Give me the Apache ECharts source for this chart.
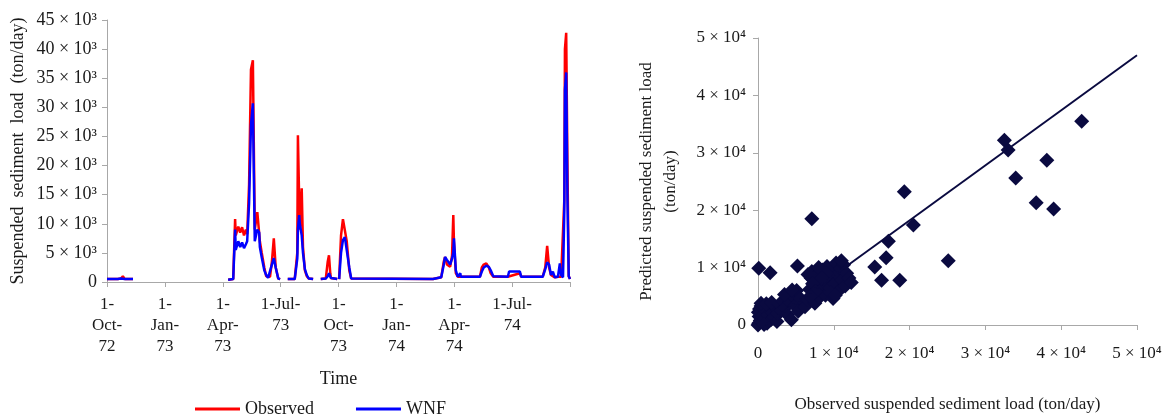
<!DOCTYPE html>
<html>
<head>
<meta charset="utf-8">
<script src="https://cdn.jsdelivr.net/npm/echarts@6/dist/echarts.min.js"></script>
<style>
html,body{margin:0;padding:0;background:#fff;}
#main{width:1172px;height:414px;}
</style>
</head>
<body>
<div id="main"></div>
<script>
// ---- Data ----
// Time axis: days since 1-Oct-72
const timeTickLabels = ['1-\nOct-\n72','1-\nJan-\n73','1-\nApr-\n73','1-Jul-\n73','1-\nOct-\n73','1-\nJan-\n74','1-\nApr-\n74','1-Jul-\n74',''];
const leftYTickLabels = ['0','5 × 10³','10 × 10³','15 × 10³','20 × 10³','25 × 10³','30 × 10³','35 × 10³','40 × 10³','45 × 10³'];
const scatterTickLabels = ['0','1 × 10⁴','2 × 10⁴','3 × 10⁴','4 × 10⁴','5 × 10⁴'];

// [day, ton/day]; null = gap in record
const observed = [
 [0,500],[17,500],[22,600],[25,1000],[28,500],[41,500],null,
 [191,400],[199,500],[202,10800],[203,8000],[207,9500],[210,8500],[213,9400],[216,8000],[219,9000],[221,8200],
 [224,16700],[227,36500],[230,38100],[233,9000],[237,12000],[240,12200],[241,7000],[244,5000],[248,2500],
 [251,1000],[254,700],[257,900],[260,3500],[263,7500],[266,2500],[270,600],[273,500],null,
 [285,500],[296,500],[300,5000],[301,25200],[303,14000],[304,9000],[307,16100],[309,6000],[312,2000],[315,1000],[318,600],[325,500],null,
 [337,500],[345,600],[348,3500],[350,4600],[352,1500],[353,700],[363,500],null,
 [366,500],[369,8000],[372,10800],[375,10500],[378,7000],[382,2000],[385,600],[388,500],[514,500],[527,800],
 [531,3500],[533,4300],[536,3000],[541,2600],[544,4500],[546,11500],[547,7000],[550,1500],[553,900],[557,900],
 [558,900],[588,900],[591,2500],[594,3000],[598,3200],[602,2500],[605,1500],[609,900],[632,900],[634,1200],
 [651,1500],[653,900],[687,900],[691,2500],[694,6200],[697,2500],[700,1200],[703,1500],[706,800],[711,900],
 [714,1000],[716,900],[719,800],[721,14000],[722,40000],[724,42800],[726,20000],[728,1000],[730,500]
];
const wnf = [
 [0,500],[17,500],[22,600],[25,800],[28,500],[41,500],null,
 [191,400],[199,500],[202,9000],[203,5500],[207,7000],[210,6000],[213,6800],[216,5800],[219,6500],[221,7000],
 [224,13500],[227,27000],[230,30700],[233,7000],[237,9000],[240,8500],[241,6000],[244,4200],[248,2000],
 [251,1200],[254,700],[257,800],[260,3000],[263,4100],[266,2500],[270,600],[273,500],null,
 [285,500],[296,500],[300,4000],[301,9000],[303,11500],[304,10000],[307,8000],[309,5000],[312,2200],[315,1200],[318,600],[325,500],null,
 [337,500],[345,600],[348,1000],[350,1500],[352,1500],[353,700],[363,500],null,
 [366,500],[369,5000],[372,7200],[375,7700],[378,7500],[382,2500],[385,600],[388,500],[514,500],[527,800],
 [531,3000],[533,4300],[536,3800],[541,3000],[544,4000],[546,5000],[547,7500],[550,2000],[553,900],[557,1500],
 [558,900],[588,900],[591,1800],[594,2500],[598,2800],[602,2600],[605,2000],[609,1000],[632,900],[634,1800],
 [651,1800],[653,900],[687,900],[691,2200],[694,3400],[697,3000],[700,1200],[703,1800],[706,800],[711,900],
 [714,3200],[716,1200],[719,800],[721,12000],[722,33000],[724,36000],[726,14000],[728,1000],[730,500]
];

// Scatter: [observed, predicted] ton/day
const scatterPoints = [
 [0,0],[100,300],[300,800],[150,1500],[50,2200],[200,2800],[400,3300],[600,500],[700,1800],[900,1100],
 [1000,2600],[1200,300],[1300,1700],[1500,3200],[1700,900],[1900,2200],[2100,1400],[2300,3000],[2500,600],
 [2600,2000],[400,3800],[800,100],[1100,3700],[1800,3900],
 [2800,3600],[3100,2500],[3300,4200],[3600,3000],[3900,1800],[4200,4000],[4400,900],[4600,5000],[4900,3300],
 [5100,6000],[5300,2400],[5600,4600],[3500,5300],[4500,6100],
 [6200,3200],[6500,4500],[6800,6200],[7000,8200],[7100,9300],[7300,5400],[7500,3800],[7700,7000],[7900,8800],
 [8100,4800],[8300,6000],[8500,9600],[8700,7600],[8900,5200],[9100,10200],[9300,8300],[9500,6500],[9700,9400],
 [9900,4600],[10100,7200],[10300,10800],[10500,8800],[10700,6000],[10900,9800],[11100,7900],[11300,10500],
 [11500,6800],[11700,9000],[12000,8200],[12300,7400],[8000,10000],[6600,8800],[7200,7200],[9600,5600],
 [10200,5200],[11000,11200],[9000,9000],[8400,8200],[7600,5800],[6900,5000],
 [100,9900],[1600,9100],[5200,10300],[7100,18500],[15400,10100],[16300,7800],[16900,11700],[17200,14600],
 [18700,7800],[19300,23200],[20500,17400],[25100,11200],[32500,32200],[33000,30500],[34000,25600],
 [36700,21300],[38100,28700],[39000,20200],[42700,35500]
];
const fitLine = [[1000,0],[50000,47000]];

// ---- Chart ----
const FONT = "'Liberation Serif','Times New Roman',serif";
const TXT = '#1a1a1a';
const AX = '#a8a8a8';
const chart = echarts.init(document.getElementById('main'));
chart.setOption({
  animation: false,
  textStyle: {fontFamily: FONT, color: TXT},
  grid: [
    {left: 107, right: 602, top: 20, bottom: 132, outerBoundsMode: 'none', containLabel: false},
    {left: 758, right: 35, top: 38, bottom: 89, outerBoundsMode: 'none', containLabel: false}
  ],
  legend: {
    data: ['Observed','WNF'],
    left: 190, top: 395,
    itemWidth: 45, itemHeight: 3, itemGap: 42,
    textStyle: {fontFamily: FONT, fontSize: 18, color: TXT},
    icon: 'rect'
  },
  xAxis: [
    {
      gridIndex: 0, type: 'value', min: 0, max: 730, interval: 91.25,
      splitLine: {show: false},
      axisLine: {lineStyle: {color: AX, width: 1}},
      axisTick: {show: true, length: 5, lineStyle: {color: AX}},
      axisLabel: {
        margin: 12, fontSize: 17, color: TXT, fontFamily: FONT, lineHeight: 21,
        formatter: v => timeTickLabels[Math.round(v / 91.25)] || ''
      },
      name: 'Time', nameLocation: 'middle', nameGap: 88,
      nameTextStyle: {fontSize: 18, color: TXT, fontFamily: FONT}
    },
    {
      gridIndex: 1, type: 'value', min: 0, max: 50000, interval: 10000,
      splitLine: {show: false},
      axisLine: {lineStyle: {color: AX}},
      axisTick: {show: true, length: 5, lineStyle: {color: AX}},
      axisLabel: {
        margin: 20, fontSize: 17, color: TXT, fontFamily: FONT,
        formatter: v => scatterTickLabels[Math.round(v / 10000)]
      },
      name: 'Observed suspended sediment load (ton/day)', nameLocation: 'middle', nameGap: 71,
      nameTextStyle: {fontSize: 17, color: TXT, fontFamily: FONT}
    }
  ],
  yAxis: [
    {
      gridIndex: 0, type: 'value', min: 0, max: 45000, interval: 5000,
      splitLine: {show: false},
      axisLine: {show: true, lineStyle: {color: AX}},
      axisTick: {show: true, length: 5, lineStyle: {color: AX}},
      axisLabel: {
        margin: 10, fontSize: 18, color: TXT, fontFamily: FONT,
        formatter: v => leftYTickLabels[Math.round(v / 5000)]
      },
      name: 'Suspended  sediment  load  (ton/day)', nameLocation: 'middle', nameGap: 80,
      nameTextStyle: {fontSize: 18, color: TXT, fontFamily: FONT}
    },
    {
      gridIndex: 1, type: 'value', min: 0, max: 50000, interval: 10000,
      splitLine: {show: false},
      axisLine: {show: true, lineStyle: {color: AX}},
      axisTick: {show: true, length: 5, lineStyle: {color: AX}},
      axisLabel: {
        margin: 12, fontSize: 17, color: TXT, fontFamily: FONT,
        formatter: v => scatterTickLabels[Math.round(v / 10000)]
      },
      name: 'Predicted suspended sediment load\n(ton/day)', nameLocation: 'middle', nameGap: 75,
      nameTextStyle: {fontSize: 17, color: TXT, fontFamily: FONT, lineHeight: 24}
    }
  ],
  series: [
    {
      name: 'Observed', type: 'line', xAxisIndex: 0, yAxisIndex: 0,
      data: observed, symbol: 'none', connectNulls: false,
      lineStyle: {color: '#ff0000', width: 2.5}, itemStyle: {color: '#ff0000'}
    },
    {
      name: 'WNF', type: 'line', xAxisIndex: 0, yAxisIndex: 0,
      data: wnf, symbol: 'none', connectNulls: false,
      lineStyle: {color: '#0000ff', width: 2.5}, itemStyle: {color: '#0000ff'}
    },
    {
      name: 'fit', type: 'line', xAxisIndex: 1, yAxisIndex: 1,
      data: fitLine, symbol: 'none',
      lineStyle: {color: '#0a0a40', width: 2}
    },
    {
      name: 'scatter', type: 'scatter', xAxisIndex: 1, yAxisIndex: 1,
      data: scatterPoints, symbol: 'diamond', symbolSize: 15,
      itemStyle: {color: '#0a0a40', opacity: 1}
    }
  ]
});
</script>
</body>
</html>
